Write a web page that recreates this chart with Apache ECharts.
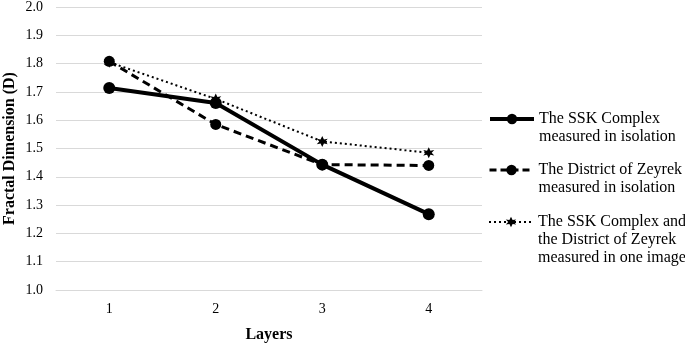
<!DOCTYPE html>
<html>
<head>
<meta charset="utf-8">
<script src="https://cdn.jsdelivr.net/npm/echarts@6/dist/echarts.min.js"></script>
<style>
  html, body { margin: 0; padding: 0; background: #fff; }
  #chart { width: 685px; height: 344px; }
</style>
</head>
<body>
<div id="chart"></div>
<script>
const layers = ['1', '2', '3', '4']
const sskIsolation = [1.714, 1.661, 1.443, 1.268]
const zeyrekIsolation = [1.808, 1.585, 1.443, 1.440]
const combinedImage = [1.805, 1.675, 1.525, 1.485]
const yTicks = { min: 1.0, max: 2.0, interval: 0.1 }

const names = [
  'The SSK Complex\nmeasured in isolation',
  'The District of Zeyrek\nmeasured in isolation',
  'The SSK Complex and\nthe District of Zeyrek\nmeasured in one image'
]

const FONT = '"Liberation Serif", "Times New Roman", serif'
const LINE_H = 18
const STAR = 'path://M0,-6 L1.6,-2.2 5.2,-3 2.8,0 5.2,3 1.6,2.2 0,6 -1.6,2.2 -5.2,3 -2.8,0 -5.2,-3 -1.6,-2.2Z'

const chart = echarts.init(document.getElementById('chart'))

// one legend per series so the icon lines up with the first text line
function legendFor(name, top, lines, lineStyle) {
  return {
    orient: 'vertical',
    left: 488,
    top: top,
    padding: 0,
    itemWidth: 44,
    itemHeight: 13,
    selectedMode: false,
    data: [{ name: name, lineStyle: lineStyle }],
    formatter: (n) => '\n'.repeat(lines - 1) + n,
    textStyle: { fontFamily: FONT, fontSize: 16, color: '#000', lineHeight: LINE_H }
  }
}

chart.setOption({
  animation: false,
  textStyle: { fontFamily: FONT },
  grid: { left: 56, right: 203, top: 7, bottom: 54, outerBoundsMode: 'none', containLabel: false },
  legend: [
    legendFor(names[0], 119 - LINE_H * 1.5, 2, { width: 4, type: 'solid' }),
    legendFor(names[1], 170 - LINE_H * 1.5, 2, { width: 3, type: [7, 4] }),
    legendFor(names[2], 222 - LINE_H * 2.5, 3, { width: 2, type: [2, 3] })
  ],
  xAxis: {
    type: 'category',
    data: layers,
    name: 'Layers',
    nameLocation: 'middle',
    nameGap: 37,
    nameMoveOverlap: false,
    nameTextStyle: { fontFamily: FONT, fontSize: 16, fontWeight: 'bold', color: '#000' },
    axisLine: { lineStyle: { color: '#d9d9d9', width: 1 } },
    axisTick: { show: false },
    axisLabel: { fontFamily: FONT, fontSize: 14, color: '#000', margin: 12 }
  },
  yAxis: {
    type: 'value',
    min: yTicks.min,
    max: yTicks.max,
    interval: yTicks.interval,
    name: 'Fractal Dimension (D)',
    nameLocation: 'middle',
    nameGap: 38,
    nameMoveOverlap: false,
    nameTextStyle: { fontFamily: FONT, fontSize: 16, fontWeight: 'bold', color: '#000' },
    axisLine: { show: false },
    axisTick: { show: false },
    axisLabel: {
      fontFamily: FONT, fontSize: 14, color: '#000', margin: 13,
      formatter: (v) => v.toFixed(1)
    },
    splitLine: { lineStyle: { color: '#d9d9d9', width: 1 } }
  },
  series: [
    {
      name: names[2],
      type: 'line',
      data: combinedImage,
      symbol: STAR,
      symbolSize: 11,
      itemStyle: { color: '#000' },
      lineStyle: { color: '#000', width: 2, type: [2, 3] },
      z: 2
    },
    {
      name: names[1],
      type: 'line',
      data: zeyrekIsolation,
      symbol: 'circle',
      symbolSize: 11,
      itemStyle: { color: '#000' },
      lineStyle: { color: '#000', width: 3, type: [8, 5] },
      z: 3
    },
    {
      name: names[0],
      type: 'line',
      data: sskIsolation,
      symbol: 'circle',
      symbolSize: 12,
      itemStyle: { color: '#000' },
      lineStyle: { color: '#000', width: 4 },
      z: 4
    }
  ]
})
</script>
</body>
</html>
